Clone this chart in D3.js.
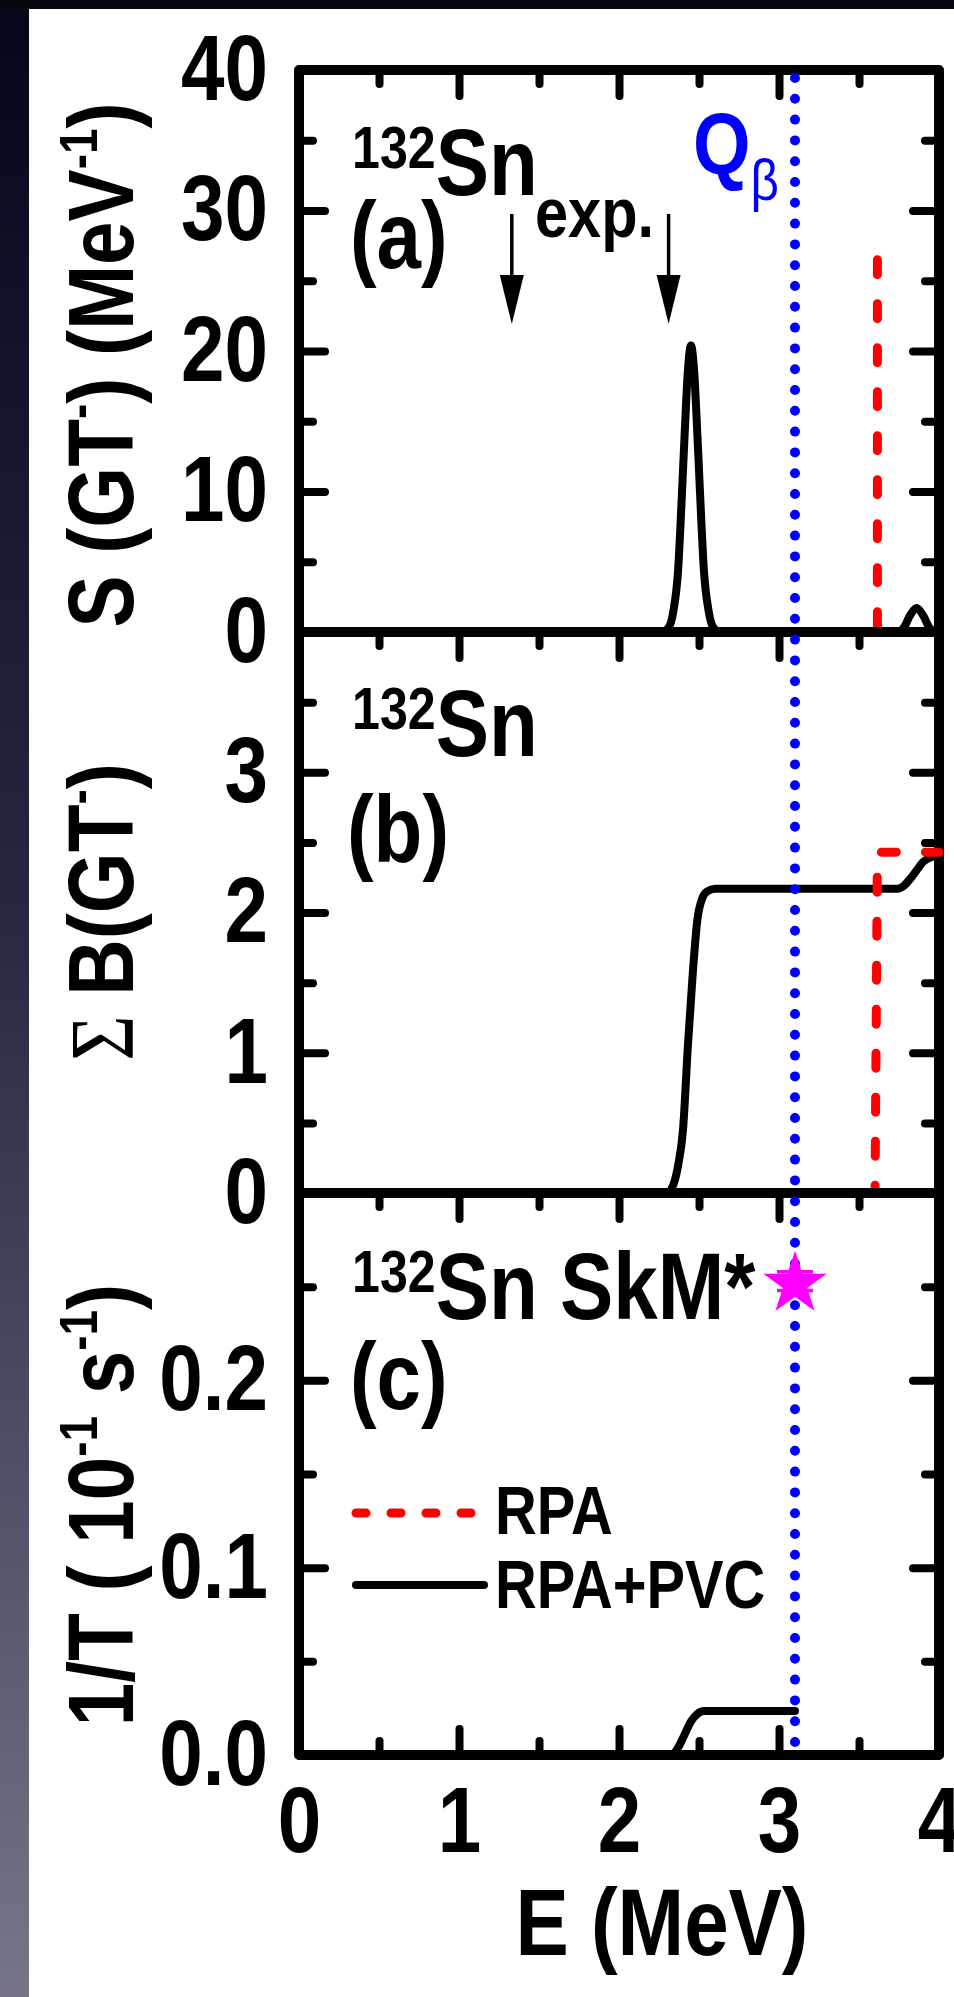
<!DOCTYPE html>
<html>
<head>
<meta charset="utf-8">
<script src="https://cdn.jsdelivr.net/npm/d3@7"></script>
<style>
  body { margin: 0; background: #fff; }
  svg text { font-family: "Liberation Sans", Arial, sans-serif; font-weight: bold; fill: #000; }
</style>
</head>
<body>
<div class="chart"></div>
<script>
// ---- data ----
var energyTicks = [0, 1, 2, 3, 4];
var energyMinor = [0.5, 1.5, 2.5, 3.5];

var ticksA = [0, 10, 20, 30, 40];
var minorA = [5, 15, 25, 35];
var ticksB = [0, 1, 2, 3];
var majorB = [0, 1, 2, 3, 4];
var minorB = [0.5, 1.5, 2.5, 3.5];
var ticksC = [0, 0.1, 0.2];
var minorC = [0.05, 0.15, 0.25];

var qBeta = 3.1;
var expArrows = [1.33, 2.31];

// (a) strength function, RPA+PVC
var stripE   = [0, 2.27, 2.31, 2.34, 2.37, 2.39, 2.41, 2.43, 2.45, 2.47, 2.49, 2.51, 2.53, 2.56, 2.59, 2.63,
                3.74, 3.78, 3.82, 3.86, 3.90, 3.94, 3.98, 4.00];
var stripPVC = [0, 0, 0.3, 1.5, 4.5, 9.0, 14.0, 18.5, 20.4, 18.5, 14.0, 9.0, 4.5, 1.5, 0.3, 0,
                0, 0.3, 1.2, 1.7, 1.2, 0.3, 0, 0];
// (a) RPA peak
var stripRpaE = [3.615, 3.615];
var stripRpa  = [26.5, 0];

// (b) cumulative B(GT-)
var sumE   = [0, 2.30, 2.34, 2.37, 2.40, 2.43, 2.46, 2.49, 2.52, 2.55, 2.60,
              3.74, 3.78, 3.82, 3.86, 3.90, 3.94, 3.98, 4.00];
var sumPVC = [0, 0, 0.06, 0.2, 0.45, 1.04, 1.55, 1.95, 2.10, 2.15, 2.17,
              2.17, 2.19, 2.24, 2.30, 2.36, 2.39, 2.40, 2.40];
var sumRpaE = [3.28, 3.60, 3.615, 4.00];
var sumRpa  = [0, 0, 2.43, 2.43];

// (c) inverse half-life
var rateE   = [0, 2.33, 2.37, 2.41, 2.45, 2.49, 2.53, 3.10];
var ratePVC = [0, 0, 0.004, 0.011, 0.018, 0.022, 0.0235, 0.0235];
var expRate = 0.253;
var expRateErr = 0.005;

// ---- layout ----
var svgWidth = 954;
var svgHeight = 1997;
var plotLeft = 299;
var width = 640;
var panelTops = [70, 632, 1193];
var panelHeights = [562, 561, 562];
var narrow = 0.85;   // the figure uses a condensed bold face

var svg = d3.select(".chart")
  .append("svg")
  .attr("width", svgWidth)
  .attr("height", svgHeight);

// slide background: dark strip on the left and a black band on top
var grad = svg.append("defs").append("linearGradient")
  .attr("id", "side").attr("x1", 0).attr("y1", 0).attr("x2", 0).attr("y2", 1);
grad.append("stop").attr("offset", "0%").attr("stop-color", "#06061a");
grad.append("stop").attr("offset", "45%").attr("stop-color", "#262640");
grad.append("stop").attr("offset", "100%").attr("stop-color", "#767688");

svg.append("rect").attr("width", svgWidth).attr("height", svgHeight).attr("fill", "#fff");
svg.append("rect").attr("x", 0).attr("y", 0).attr("width", 29).attr("height", svgHeight).attr("fill", "url(#side)");
svg.append("rect").attr("x", 0).attr("y", 0).attr("width", svgWidth).attr("height", 9).attr("fill", "#06060f");

var xScale = d3.scaleLinear().domain([0, 4]).range([0, width]);

function makePanel(i, domain) {
  var g = svg.append("g").attr("transform", `translate(${plotLeft}, ${panelTops[i]})`);
  var y = d3.scaleLinear().domain(domain).range([panelHeights[i], 0]);
  return { g: g, y: y, h: panelHeights[i], top: panelTops[i] };
}

var pA = makePanel(0, [0, 40]);
var pB = makePanel(1, [0, 4]);
var pC = makePanel(2, [0, 0.3]);

function styleTicks(sel) {
  sel.select(".domain").remove();
  sel.selectAll(".tick line")
    .attr("stroke", "#000")
    .attr("stroke-width", 8)
    .attr("stroke-linecap", "round");
  sel.selectAll(".tick text")
    .style("font-size", "92px")
    .attr("transform", `scale(${narrow},1)`)
    .attr("x", function() { return +d3.select(this).attr("x") / narrow; });
}

function drawAxes(p, major, minor, labels, fmt, bottom) {
  var g = p.g;
  // top ticks (pointing down)
  g.append("g").call(d3.axisTop(xScale).tickValues(energyTicks).tickSize(-26).tickFormat(""))
    .call(styleTicks);
  g.append("g").call(d3.axisTop(xScale).tickValues(energyMinor).tickSize(-14).tickFormat(""))
    .call(styleTicks);
  // left ticks
  g.append("g").call(d3.axisLeft(p.y).tickValues(major).tickSize(-26).tickFormat(""))
    .call(styleTicks);
  g.append("g").call(d3.axisLeft(p.y).tickValues(minor).tickSize(-14).tickFormat(""))
    .call(styleTicks);
  g.append("g").call(d3.axisLeft(p.y).tickValues(labels).tickSize(0).tickPadding(31).tickFormat(fmt))
    .call(styleTicks);
  // right ticks
  g.append("g").attr("transform", `translate(${width},0)`)
    .call(d3.axisRight(p.y).tickValues(major).tickSize(-26).tickFormat(""))
    .call(styleTicks);
  g.append("g").attr("transform", `translate(${width},0)`)
    .call(d3.axisRight(p.y).tickValues(minor).tickSize(-14).tickFormat(""))
    .call(styleTicks);
  if (bottom) {
    g.append("g").attr("transform", `translate(0,${p.h})`)
      .call(d3.axisBottom(xScale).tickValues(energyTicks).tickSize(-26).tickFormat(""))
      .call(styleTicks);
    g.append("g").attr("transform", `translate(0,${p.h})`)
      .call(d3.axisBottom(xScale).tickValues(energyMinor).tickSize(-14).tickFormat(""))
      .call(styleTicks);
    g.append("g").attr("transform", `translate(0,${p.h})`)
      .call(d3.axisBottom(xScale).tickValues(energyTicks).tickSize(0).tickPadding(32).tickFormat(d3.format("d")))
      .call(styleTicks);
  }
  // frame
  g.append("rect")
    .attr("width", width).attr("height", p.h)
    .attr("fill", "none").attr("stroke", "#000")
    .attr("stroke-width", 10).attr("stroke-linejoin", "round");
}

drawAxes(pA, ticksA, minorA, ticksA, d3.format("d"), false);
drawAxes(pB, majorB, minorB, ticksB, d3.format("d"), false);
drawAxes(pC, ticksC, minorC, ticksC, d3.format(".1f"), true);

// ---- curves ----
function drawCurve(p, xs, ys, color, dashed, smooth) {
  var line = d3.line()
    .x(d => xScale(d[0]))
    .y(d => p.y(d[1]))
    .curve(smooth ? d3.curveMonotoneX : d3.curveLinear);
  var path = p.g.append("path")
    .datum(d3.zip(xs, ys))
    .attr("d", line)
    .attr("fill", "none")
    .attr("stroke", color)
    .attr("stroke-linejoin", "round")
    .attr("stroke-linecap", "round");
  if (dashed) {
    path.attr("stroke-width", 9).attr("stroke-dasharray", "15 29");
  } else {
    path.attr("stroke-width", 8);
  }
  return path;
}

drawCurve(pA, stripE, stripPVC, "#000", false, true);
drawCurve(pA, stripRpaE, stripRpa, "#ff0000", true, false);
drawCurve(pB, sumE, sumPVC, "#000", false, true);
drawCurve(pB, sumRpaE, sumRpa, "#ff0000", true, false);
drawCurve(pC, rateE, ratePVC, "#000", false, true);

// Q_beta dotted line through all panels
svg.append("line")
  .attr("x1", plotLeft + xScale(qBeta)).attr("x2", plotLeft + xScale(qBeta))
  .attr("y1", panelTops[0] + 8).attr("y2", panelTops[2] + panelHeights[2] - 5)
  .attr("stroke", "#0000ff")
  .attr("stroke-width", 10)
  .attr("stroke-linecap", "round")
  .attr("stroke-dasharray", "0 20.8");

// experimental arrows in (a)
expArrows.forEach(function(e) {
  var ax = xScale(e);
  pA.g.append("line")
    .attr("x1", ax).attr("x2", ax)
    .attr("y1", 144).attr("y2", 215)
    .attr("stroke", "#000").attr("stroke-width", 3.5);
  pA.g.append("path")
    .attr("d", `M${ax - 12},${205} L${ax + 12},${205} L${ax},${254} Z`)
    .attr("fill", "#000");
});

// experimental rate in (c): star with error bar, drawn over the Q_beta line
var starG = svg.append("g").attr("transform", `translate(${plotLeft}, ${pC.top})`);
var sx = xScale(qBeta);
starG.append("path")
  .attr("d", d3.symbol().type(d3.symbolStar).size(1250)())
  .attr("transform", `translate(${sx},${pC.y(expRate) + 3})`)
  .attr("fill", "#ff00ff");
[expRate - expRateErr, expRate + expRateErr].forEach(function(v) {
  starG.append("line")
    .attr("x1", sx - 18).attr("x2", sx + 18)
    .attr("y1", pC.y(v)).attr("y2", pC.y(v))
    .attr("stroke", "#ff00ff").attr("stroke-width", 3.5);
});

// ---- labels ----
// text in the condensed face: a group scaled horizontally
function label(x, y, size, rotate) {
  var g = svg.append("g")
    .attr("transform", `translate(${x},${y})` + (rotate ? " rotate(-90)" : "") + ` scale(${narrow},1)`);
  return g.append("text").style("font-size", size + "px");
}

function nucleus(x, y, rest) {
  var t = label(x, y, 94);
  t.append("tspan").style("font-size", "59px").attr("dy", -27).text("132");
  t.append("tspan").attr("dy", 27).text(rest);
  return t;
}
nucleus(352, 195, "Sn");
label(350, 268, 94).text("(a)");
label(535, 237, 70).text("exp.");
var qt = label(693, 174, 87).style("fill", "#0000ff");
qt.append("tspan").text("Q");
qt.append("tspan").style("font-size", "58px").style("font-weight", "normal").attr("dy", 26).text("β");

nucleus(352, 756, "Sn");
label(347, 862, 94).text("(b)");

nucleus(352, 1319, "Sn SkM*");
label(350, 1409, 94).text("(c)");

// legend
var legend = svg.append("g");
legend.append("line").attr("x1", 356).attr("x2", 476).attr("y1", 1513).attr("y2", 1513)
  .attr("stroke", "#ff0000").attr("stroke-width", 9).attr("stroke-linecap", "round")
  .attr("stroke-dasharray", "10 25");
legend.append("line").attr("x1", 356).attr("x2", 484).attr("y1", 1585).attr("y2", 1585)
  .attr("stroke", "#000").attr("stroke-width", 8).attr("stroke-linecap", "round");
label(495, 1534, 68).text("RPA");
label(495, 1608, 68).text("RPA+PVC");

// axis titles
var tA = label(133, 365, 92, true).attr("text-anchor", "middle");
tA.append("tspan").text("S (GT");
tA.append("tspan").style("font-size", "54px").attr("dy", -36).text("-");
tA.append("tspan").attr("dy", 36).text(") (MeV");
tA.append("tspan").style("font-size", "54px").attr("dy", -36).text("-1");
tA.append("tspan").attr("dy", 36).text(")");

var tB = label(133, 912, 92, true).attr("text-anchor", "middle");
tB.append("tspan").style("font-family", "'Liberation Serif', serif").style("font-weight", "normal").text("Σ ");
tB.append("tspan").text("B(GT");
tB.append("tspan").style("font-size", "54px").attr("dy", -36).text("-");
tB.append("tspan").attr("dy", 36).text(")");

var tC = label(133, 1505, 92, true).attr("text-anchor", "middle");
tC.append("tspan").text("1/T ( 10");
tC.append("tspan").style("font-size", "54px").attr("dy", -36).text("-1");
tC.append("tspan").attr("dy", 36).text(" s");
tC.append("tspan").style("font-size", "54px").attr("dy", -36).text("-1");
tC.append("tspan").attr("dy", 36).text(")");

label(662, 1955, 94).attr("text-anchor", "middle").text("E (MeV)");
</script>
</body>
</html>
